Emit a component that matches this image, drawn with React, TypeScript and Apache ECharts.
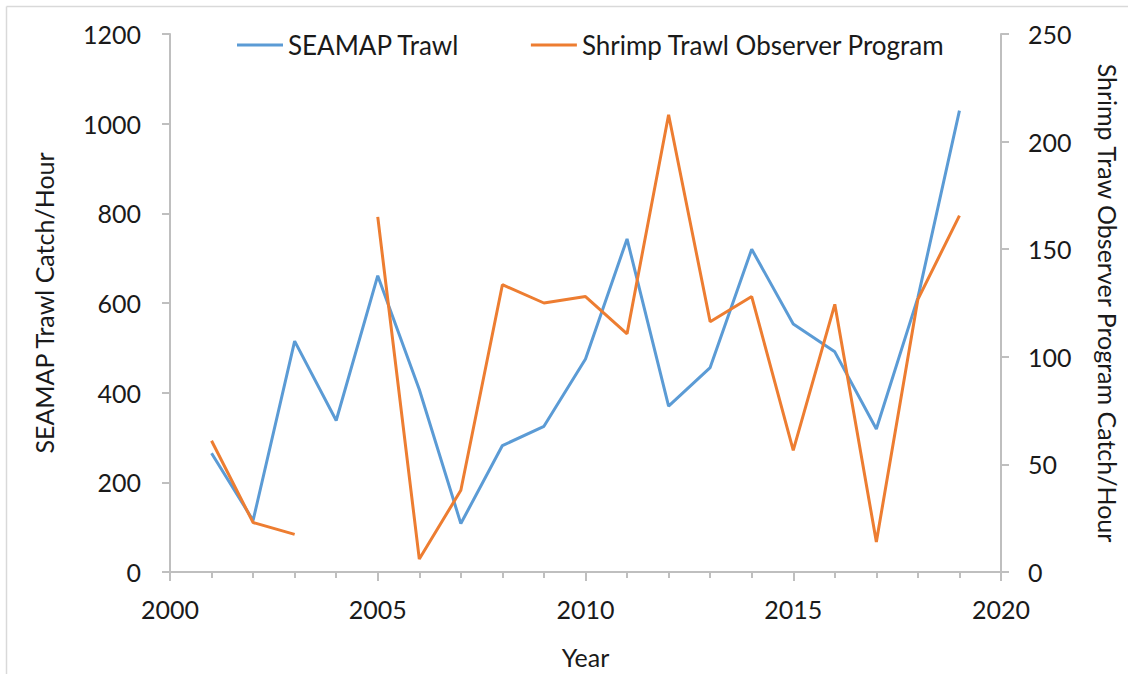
import React, { useEffect, useRef } from "react";
import * as echarts from "echarts";

const years = [2001, 2002, 2003, 2004, 2005, 2006, 2007, 2008, 2009, 2010, 2011, 2012, 2013, 2014, 2015, 2016, 2017, 2018, 2019];
const seamapTrawl = [265, 115, 515, 338, 661, 407, 108, 282, 325, 475, 743, 370, 456, 720, 553, 491, 319, 612, 1029];
const shrimpObserver: (number | null)[] = [61, 23, 17.5, null, 165, 6, 38, 133.5, 125, 128, 110.7, 212.5, 116.3, 128, 56.5, 124.4, 14, 126.7, 165.6];

const leftTicks = { min: 0, max: 1200, interval: 200 };
const rightTicks = { min: 0, max: 250, interval: 50 };
const xTicks = { min: 2000, max: 2020, interval: 5 };

const FONT = "Lato";
const FS = 25;
const AXIS_COLOR = "#bfbfbf";
const TEXT_COLOR = "#1a1a1a";

if (typeof document !== "undefined") {
  document.body.style.margin = "0";
}

export default function App() {
  const ref = useRef<HTMLDivElement>(null);
  useEffect(() => {
    document.body.style.margin = "0";
    if (!ref.current) return;
    const chart = echarts.init(ref.current, undefined, { renderer: "svg", width: 1128, height: 674 });
    chart.setOption({
      animation: false,
      backgroundColor: "#ffffff",
      textStyle: { fontFamily: FONT, color: TEXT_COLOR },
      graphic: [
        {
          type: "line",
          shape: { x1: 6.5, y1: 6.5, x2: 1128, y2: 6.5 },
          style: { stroke: "#d9d9d9", lineWidth: 1.5 },
          silent: true,
        },
        {
          type: "line",
          shape: { x1: 6.5, y1: 6.5, x2: 6.5, y2: 674 },
          style: { stroke: "#d9d9d9", lineWidth: 1.5 },
          silent: true,
        },
      ],
      legend: {
        top: 27,
        left: 232,
        icon: "rect",
        itemWidth: 46,
        itemHeight: 3,
        itemGap: 71,
        textStyle: { fontFamily: FONT, fontSize: 26, color: TEXT_COLOR, padding: [0, 0, 0, 0] },
        data: ["SEAMAP Trawl", "Shrimp Trawl Observer Program"],
      },
      grid: { left: 170, right: 119, top: 34, bottom: 94, containLabel: false },
      xAxis: {
        type: "value",
        min: xTicks.min,
        max: xTicks.max,
        interval: xTicks.interval,
        name: "Year",
        nameLocation: "middle",
        nameGap: 72,
        nameTextStyle: { fontFamily: FONT, fontSize: FS, color: TEXT_COLOR },
        axisLine: { show: true, lineStyle: { color: AXIS_COLOR, width: 2 } },
        axisTick: { show: true, length: 9, lineStyle: { color: AXIS_COLOR, width: 2 } },
        minorTick: { show: true, splitNumber: 5, length: 6, lineStyle: { color: AXIS_COLOR, width: 2 } },
        splitLine: { show: false },
        axisLabel: { fontFamily: FONT, fontSize: FS, color: TEXT_COLOR, margin: 24, formatter: (v: number) => String(v) },
      },
      yAxis: [
        {
          type: "value",
          position: "left",
          min: leftTicks.min,
          max: leftTicks.max,
          interval: leftTicks.interval,
          name: "SEAMAP Trawl Catch/Hour",
          nameLocation: "middle",
          nameGap: 114,
          nameRotate: 90,
          nameTextStyle: { fontFamily: FONT, fontSize: FS, color: TEXT_COLOR },
          axisLine: { show: true, lineStyle: { color: AXIS_COLOR, width: 2 } },
          axisTick: { show: true, length: 8, lineStyle: { color: AXIS_COLOR, width: 2 } },
          splitLine: { show: false },
          axisLabel: { fontFamily: FONT, fontSize: FS, color: TEXT_COLOR, margin: 29, formatter: (v: number) => String(v) },
        },
        {
          type: "value",
          position: "right",
          min: rightTicks.min,
          max: rightTicks.max,
          interval: rightTicks.interval,
          name: "Shrimp Traw Observer Program Catch/Hour",
          nameLocation: "middle",
          nameGap: 94,
          nameRotate: -90,
          nameTextStyle: { fontFamily: FONT, fontSize: FS, color: TEXT_COLOR },
          axisLine: { show: true, lineStyle: { color: AXIS_COLOR, width: 2 } },
          axisTick: { show: true, length: 8, lineStyle: { color: AXIS_COLOR, width: 2 } },
          splitLine: { show: false },
          axisLabel: { fontFamily: FONT, fontSize: FS, color: TEXT_COLOR, margin: 27, formatter: (v: number) => String(v) },
        },
      ],
      series: [
        {
          name: "SEAMAP Trawl",
          type: "line",
          yAxisIndex: 0,
          symbol: "none",
          lineStyle: { color: "#5B9BD5", width: 3 },
          itemStyle: { color: "#5B9BD5" },
          data: years.map((y, i) => [y, seamapTrawl[i]]),
        },
        {
          name: "Shrimp Trawl Observer Program",
          type: "line",
          yAxisIndex: 1,
          symbol: "none",
          connectNulls: false,
          lineStyle: { color: "#ED7D31", width: 3 },
          itemStyle: { color: "#ED7D31" },
          data: years.map((y, i) => [y, shrimpObserver[i] === null ? "-" : shrimpObserver[i]]),
        },
      ],
    });
    return () => chart.dispose();
  }, []);
  return <div ref={ref} style={{ position: "absolute", left: 0, top: 0, width: 1128, height: 674, overflow: "hidden" }} />;
}
